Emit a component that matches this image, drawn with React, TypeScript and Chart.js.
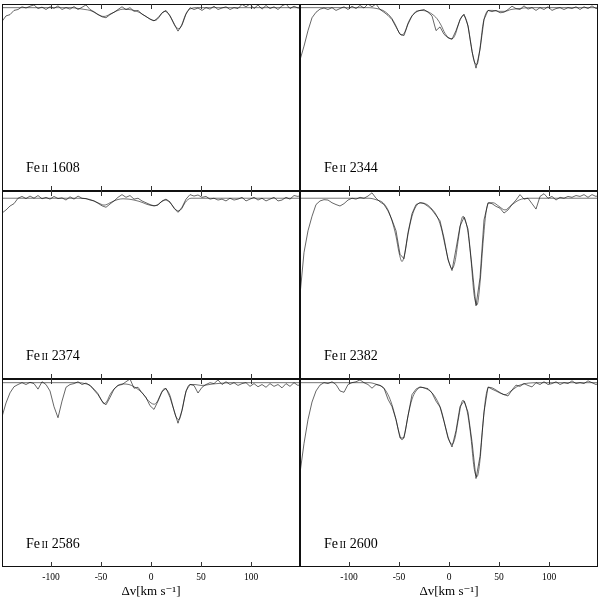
import React, { useEffect, useRef } from "react";
import { Chart, registerables } from "chart.js";

Chart.register(...registerables);

// Velocity grid of the observed spectra (km/s)
const dataVelocity = [
  -149, -145, -141, -137, -133, -129, -125, -121, -117, -113,
  -109, -105, -101, -97, -93, -89, -85, -81, -77, -73,
  -69, -65, -61, -57, -53, -49, -45, -41, -37, -33,
  -29, -25, -21, -17, -13, -9, -5, -1, 3, 7,
  11, 15, 19, 23, 27, 31, 35, 39, 43, 47,
  51, 55, 59, 63, 67, 71, 75, 79, 83, 87,
  91, 95, 99, 103, 107, 111, 115, 119, 123, 127,
  131, 135, 139, 143, 147, 151,
];

// Velocity grid of the fitted model profiles (km/s)
const modelVelocity = [
  -149, -140, -130, -120, -110, -100, -90, -80, -72, -66,
  -61, -57, -53, -50, -47, -44, -41, -37, -33, -28,
  -22, -17, -12, -8, -4, 0, 3, 6, 9, 12,
  14, 16, 19, 22, 25, 28, 31, 34, 37, 40,
  44, 50, 56, 62, 70, 80, 90, 100, 110, 120,
  130, 140, 149,
];

const tickValues = [-100, -50, 0, 50, 100];
const xTitle = "\u0394v[km s\u207B\u00B9]";

const data1608 = [
  0.925, 0.955, 0.962, 0.985, 0.99, 1.005, 0.998, 1.008, 1.015, 0.995,
  1.003, 0.99, 1.005, 0.996, 1.01, 0.99, 1.0, 0.992, 1.006, 0.99,
  1.002, 1.015, 0.99, 0.978, 0.963, 0.95, 0.945, 0.962, 0.975, 0.99,
  1.005, 0.99, 1.0, 0.98, 0.985, 0.965, 0.952, 0.938, 0.928, 0.945,
  0.972, 0.985, 0.955, 0.91, 0.872, 0.905, 0.965, 1.0, 0.99, 0.998,
  0.985, 1.0, 0.992, 1.008, 0.99, 0.998, 1.005, 0.99, 1.0, 0.995,
  1.018, 1.005, 1.02, 0.995, 1.015, 0.992, 1.012, 0.995, 1.005, 0.99,
  1.01, 1.02, 0.995, 1.008, 0.998, 1.0,
];
const model1608 = [
  1, 1, 1, 1, 1, 1, 1, 1, 0.995, 0.99,
  0.985, 0.975, 0.962, 0.955, 0.952, 0.956, 0.965, 0.975, 0.985, 0.992,
  0.99, 0.985, 0.975, 0.962, 0.948, 0.935, 0.93, 0.935, 0.955, 0.975,
  0.98, 0.975, 0.955, 0.925, 0.895, 0.885, 0.91, 0.955, 0.985, 0.995,
  1, 1, 1, 1, 1, 1, 1, 1, 1, 1,
  1, 1, 1,
];

const data2344 = [
  0.715, 0.79, 0.875, 0.945, 0.975, 0.992, 0.998, 0.99, 1.0, 0.985,
  0.995, 1.005, 0.99, 1.008, 0.995, 1.012, 0.998, 1.02, 1.005, 1.02,
  0.99, 0.975, 0.958, 0.935, 0.895, 0.855, 0.848, 0.91, 0.955, 0.98,
  0.985, 0.99, 0.975, 0.955, 0.875, 0.895, 0.855, 0.835, 0.828, 0.875,
  0.935, 0.965, 0.9, 0.76, 0.67, 0.77, 0.935, 0.985, 0.978, 0.985,
  0.972, 0.975, 0.99, 1.008, 0.995, 0.99, 1.01, 0.992, 1.0, 0.985,
  1.0, 0.99, 1.005, 0.985, 0.995, 1.0, 0.99, 1.0, 0.995, 1.005,
  0.99, 1.005, 0.995, 1.01, 0.995, 1.0,
];
const model2344 = [
  1, 1, 1, 1, 1, 1, 1, 1, 0.995, 0.985,
  0.965, 0.94, 0.9, 0.865, 0.85, 0.87, 0.915, 0.955, 0.975, 0.985,
  0.98, 0.965, 0.94, 0.905, 0.86, 0.835, 0.83, 0.85, 0.9, 0.945,
  0.958, 0.95, 0.9, 0.8, 0.71, 0.69, 0.78, 0.91, 0.97, 0.985,
  0.985, 0.98, 0.98, 0.99, 0.995, 1, 1, 1, 1, 1,
  1, 1, 1,
];

const data2374 = [
  0.918, 0.935, 0.957, 0.97, 1.0, 1.01, 0.998, 1.012, 1.0, 1.015,
  0.997, 1.005, 0.995, 1.01, 0.998, 1.002, 0.99, 1.008, 0.995, 1.012,
  1.0, 0.998, 0.99, 0.985, 0.972, 0.958, 0.95, 0.968, 0.985, 1.005,
  1.02, 1.005, 1.015, 0.995, 1.0, 0.985, 0.975, 0.965, 0.958, 0.962,
  0.985, 0.995, 0.98, 0.945, 0.922, 0.95, 0.995, 1.02, 1.012, 1.018,
  1.005, 1.01, 0.995, 1.0, 0.99, 0.995, 0.985, 1.0, 0.99, 0.995,
  1.005, 0.985, 0.995, 1.005, 0.99, 1.0, 0.985, 0.995, 1.005, 0.985,
  0.99, 1.005, 0.995, 1.015, 1.01, 1.02,
];
const model2374 = [
  1, 1, 1, 1, 1, 1, 1, 1, 1, 0.998,
  0.993, 0.985, 0.975, 0.967, 0.962, 0.966, 0.975, 0.985, 0.993, 0.997,
  0.995, 0.99, 0.983, 0.975, 0.966, 0.96, 0.958, 0.962, 0.975, 0.985,
  0.99, 0.988, 0.975, 0.955, 0.935, 0.93, 0.945, 0.975, 0.993, 1,
  1, 1, 1, 1, 1, 1, 1, 1, 1, 1,
  1, 1, 1,
];

const data2382 = [
  0.465, 0.7, 0.82, 0.9, 0.965, 0.985, 0.992, 0.99, 0.975, 0.965,
  0.957, 0.97, 0.99, 1.0, 0.995, 1.005, 1.0, 1.012, 1.03, 1.0,
  0.98, 0.965, 0.93, 0.88, 0.82, 0.69, 0.665, 0.81, 0.915, 0.965,
  0.975, 0.97, 0.955, 0.935, 0.905, 0.875, 0.78, 0.66, 0.6, 0.72,
  0.845, 0.895, 0.83, 0.62, 0.405, 0.56, 0.88, 0.975, 0.97, 0.955,
  0.945, 0.918, 0.935, 0.965, 0.99, 1.02, 0.995, 1.0, 0.97, 0.94,
  1.01, 1.025, 1.0, 1.01, 0.99, 1.005, 1.0, 1.01, 1.005, 1.015,
  1.01, 1.02, 1.005, 1.02, 1.01, 1.02,
];
const model2382 = [
  1, 1, 1, 1, 1, 1, 1, 1, 0.99, 0.975,
  0.935, 0.875, 0.79, 0.7, 0.65, 0.7, 0.8, 0.9, 0.955, 0.975,
  0.965, 0.94, 0.9, 0.84, 0.74, 0.645, 0.61, 0.65, 0.76, 0.87,
  0.9, 0.885, 0.81, 0.66, 0.47, 0.41, 0.53, 0.75, 0.92, 0.975,
  0.975, 0.955, 0.935, 0.96, 0.99, 1, 1, 1, 1, 1,
  1, 1, 1,
];

const data2586 = [
  0.815, 0.89, 0.945, 0.978, 0.99, 1.0, 0.99, 1.002, 0.995, 0.965,
  1.005, 0.99, 0.955, 0.87, 0.81, 0.9, 0.975, 0.99, 0.995, 1.005,
  0.99, 0.998, 0.985, 0.96, 0.935, 0.9, 0.88, 0.92, 0.965, 0.985,
  0.99, 1.005, 1.02, 0.97, 0.975, 0.945, 0.92, 0.875, 0.855, 0.9,
  0.95, 0.97, 0.92, 0.85, 0.78, 0.85, 0.955, 0.99, 0.985, 0.944,
  0.975, 0.99, 1.0, 0.995, 1.015, 0.99, 1.005, 0.99, 1.0, 0.985,
  0.995, 1.0, 0.98, 0.995, 0.978, 0.99, 0.975, 0.995, 0.98, 0.99,
  0.972, 0.995, 0.98, 1.0, 0.985, 0.995,
];
const model2586 = [
  1, 1, 1, 1, 1, 1, 1, 1, 1, 0.995,
  0.985, 0.965, 0.94, 0.91, 0.885, 0.9, 0.935, 0.965, 0.985, 0.993,
  0.99, 0.978, 0.96, 0.94, 0.91, 0.89, 0.883, 0.895, 0.93, 0.962,
  0.968, 0.96, 0.93, 0.87, 0.815, 0.8, 0.85, 0.93, 0.98, 0.99,
  0.99, 0.985, 0.988, 0.993, 0.997, 1, 1, 1, 1, 1,
  1, 1, 1,
];

const data2600 = [
  0.51, 0.67, 0.8, 0.895, 0.955, 0.987, 1.0, 0.995, 1.005, 0.99,
  0.955, 0.948, 0.99, 1.0, 1.005, 1.015, 1.0, 0.99, 0.97, 0.99,
  0.985, 0.97, 0.91, 0.87, 0.8, 0.7, 0.7, 0.82, 0.935, 0.965,
  0.977, 0.972, 0.968, 0.944, 0.9, 0.868, 0.79, 0.7, 0.651, 0.74,
  0.87, 0.9, 0.84, 0.68, 0.48, 0.6, 0.84, 0.977, 0.965, 0.955,
  0.944, 0.935, 0.928, 0.96, 0.987, 0.98, 0.995, 0.985, 0.977, 1.0,
  0.99, 1.005, 0.99, 0.995, 1.005, 0.99, 1.0, 0.995, 1.01, 0.995,
  1.0, 0.995, 1.01, 1.0, 0.99, 1.0,
];
const model2600 = [
  1, 1, 1, 1, 1, 1, 1, 1, 0.99, 0.975,
  0.935, 0.88, 0.8, 0.73, 0.69, 0.73, 0.82, 0.91, 0.955, 0.975,
  0.965, 0.945, 0.905, 0.855, 0.77, 0.69, 0.665, 0.7, 0.79, 0.88,
  0.905, 0.89, 0.82, 0.7, 0.54, 0.49, 0.58, 0.78, 0.93, 0.975,
  0.97, 0.95, 0.935, 0.955, 0.985, 0.998, 1, 1, 1, 1,
  1, 1, 1,
];

const panels = [
  { ion: "Fe", stage: "II", wave: "1608", data: data1608, model: model1608, row: 0, col: 0 },
  { ion: "Fe", stage: "II", wave: "2344", data: data2344, model: model2344, row: 0, col: 1 },
  { ion: "Fe", stage: "II", wave: "2374", data: data2374, model: model2374, row: 1, col: 0 },
  { ion: "Fe", stage: "II", wave: "2382", data: data2382, model: model2382, row: 1, col: 1 },
  { ion: "Fe", stage: "II", wave: "2586", data: data2586, model: model2586, row: 2, col: 0 },
  { ion: "Fe", stage: "II", wave: "2600", data: data2600, model: model2600, row: 2, col: 1 },
];

const ROW_TOP = [4, 191, 379];
const ROW_H = [187, 188, 188];
const ROW_YMAX = [1.02, 1.04, 1.02];
const COL_LEFT = [2, 300];
const COL_W = 298;
const AXIS_H = 36;
const SERIF = "'Liberation Serif', 'DejaVu Serif', serif";

type PanelDef = (typeof panels)[number];

function framePlugin(p: PanelDef) {
  return {
    id: "frame" + p.wave,
    afterDatasetsDraw(chart: any) {
      const { ctx, chartArea } = chart;
      const { left, top, right, bottom } = chartArea;
      const xs = chart.scales.x;
      ctx.save();
      ctx.strokeStyle = "#111";
      ctx.lineWidth = 1;
      ctx.strokeRect(left + 0.5, top + 0.5, right - left - 1, bottom - top - 1);
      ctx.strokeStyle = "#333";
      ctx.beginPath();
      for (const v of tickValues) {
        const px = Math.round(xs.getPixelForValue(v)) + 0.5;
        ctx.moveTo(px, top);
        ctx.lineTo(px, top + 5);
        ctx.moveTo(px, bottom);
        ctx.lineTo(px, bottom - 5);
      }
      ctx.stroke();
      // label
      ctx.fillStyle = "#000";
      ctx.textBaseline = "alphabetic";
      const base = bottom - 19;
      let x = left + 24;
      ctx.font = `14px ${SERIF}`;
      ctx.fillText(p.ion, x, base);
      x += ctx.measureText(p.ion).width + 1.5;
      ctx.font = `10px ${SERIF}`;
      ctx.fillText(p.stage, x, base);
      x += ctx.measureText(p.stage).width;
      ctx.font = `14px ${SERIF}`;
      ctx.fillText(" " + p.wave, x, base);
      ctx.restore();
    },
  };
}

function Panel({ p }: { p: PanelDef }) {
  const ref = useRef<HTMLCanvasElement>(null);
  const isBottom = p.row === 2;
  const height = ROW_H[p.row] + (isBottom ? AXIS_H : 0);
  useEffect(() => {
    const xScale: any = {
      type: "linear",
      min: -149,
      max: 149,
      display: isBottom,
      grid: { display: false, drawTicks: false, tickLength: 0 },
      border: { display: false },
      afterBuildTicks: (s: any) => {
        s.ticks = tickValues.map((v) => ({ value: v }));
      },
      ticks: {
        font: { family: SERIF, size: 9.5 },
        color: "#000",
        padding: 5,
        maxRotation: 0,
        autoSkip: false,
      },
      title: {
        display: true,
        text: xTitle,
        font: { family: SERIF, size: 13 },
        color: "#000",
        padding: { top: 0, bottom: 4 },
      },
    };
    if (isBottom) {
      xScale.afterFit = (s: any) => {
        s.height = AXIS_H;
      };
    }
    const chart = new Chart(ref.current!, {
      type: "line",
      data: {
        datasets: [
          {
            data: p.model.map((y, i) => ({ x: modelVelocity[i], y })),
            borderColor: "rgba(0,0,0,0.55)",
            borderWidth: 1,
            pointRadius: 0,
            cubicInterpolationMode: "monotone",
          },
          {
            data: p.data.map((y, i) => ({ x: dataVelocity[i], y })),
            borderColor: "rgba(0,0,0,0.6)",
            borderWidth: 1,
            pointRadius: 0,
            tension: 0,
          },
        ],
      },
      options: {
        responsive: false,
        maintainAspectRatio: false,
        animation: false,
        devicePixelRatio: 1,
        events: [],
        layout: { padding: 0, autoPadding: false },
        plugins: { legend: { display: false }, tooltip: { enabled: false } },
        scales: {
          x: xScale,
          y: { type: "linear", min: 0, max: ROW_YMAX[p.row], display: false },
        },
      },
      plugins: [framePlugin(p)],
    } as any);
    return () => chart.destroy();
  }, []);
  return (
    <canvas
      ref={ref}
      width={COL_W}
      height={height}
      style={{ position: "absolute", left: COL_LEFT[p.col], top: ROW_TOP[p.row], width: COL_W, height }}
    />
  );
}

export default function App() {
  return (
    <div style={{ position: "absolute", left: 0, top: 0, width: 600, height: 603, background: "#fff" }}>
      {panels.map((p) => (
        <Panel key={p.wave} p={p} />
      ))}
    </div>
  );
}
